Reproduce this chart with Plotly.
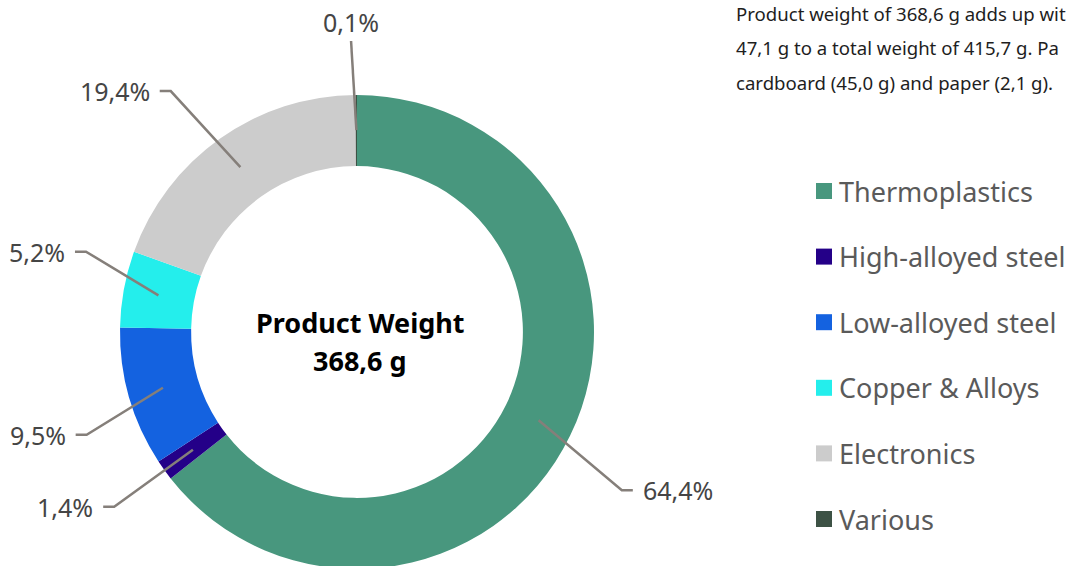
import math
import plotly.graph_objects as go

# ---------------- data ----------------
categories = ["Thermoplastics", "High-alloyed steel", "Low-alloyed steel",
              "Copper & Alloys", "Electronics", "Various"]
shares = [64.4, 1.4, 9.5, 5.2, 19.4, 0.1]
percent_labels = ["64,4%", "1,4%", "9,5%", "5,2%", "19,4%", "0,1%"]
center_title = "Product Weight"
center_value = "368,6 g"
# note text as visible in the reference (cut at the right edge there)
note_lines = [
    "Product weight of 368,6 g adds up wit",
    "47,1 g to a total weight of 415,7 g. Pa",
    "cardboard (45,0 g) and paper (2,1 g).",
]

# ---------------- style ----------------
colors = ["#48977e", "#240088", "#1462e0", "#24eeec", "#cccccc", "#3d5245"]
FONT = "Noto Sans"
W, H = 1071, 570
CX, CY, R = 357, 332, 237
HOLE = 0.7
R_START = 0.852 * R      # leader line start (inside ring)
R_ELBOW = 300            # natural elbow radius
TAIL = 11
# manual label nudges (px) for readability, like the original layout
label_nudge = [(-5, 27), (1, 0), (18, 20), (24, -26), (-13, 4), (-5, 9)]
LINE_COLOR = "#857f7a"
LABEL_COLOR = "#454545"
LEGEND_COLOR = "#5a5a5a"

fig = go.Figure()
fig.add_trace(go.Pie(
    labels=categories, values=shares, sort=False, direction="clockwise",
    rotation=0, hole=HOLE, textinfo="none", hoverinfo="label+percent",
    marker=dict(colors=colors, line=dict(width=0)),
    domain=dict(x=[(CX - R) / W, (CX + R) / W],
                y=[(H - CY - R) / H, (H - CY + R) / H]),
    showlegend=False,
))

shapes = []
annotations = []
total = sum(shares)
cum = 0.0
for i, v in enumerate(shares):
    mid = (cum + v / 2) / total * 2 * math.pi
    cum += v
    s, c = math.sin(mid), math.cos(mid)
    x0, y0 = CX + R_START * s, CY - R_START * c
    ex = CX + R_ELBOW * s + label_nudge[i][0]
    ey = CY - R_ELBOW * c + label_nudge[i][1]
    if abs(s) < 0.15:
        # near the top: straight line with label above
        shapes.append(dict(type="path", xref="x", yref="y",
                           path=f"M {x0},{y0} L {ex},{ey}",
                           line=dict(color=LINE_COLOR, width=2.5), layer="above"))
        annotations.append(dict(x=ex, y=ey - 19, xref="x", yref="y",
                                text=percent_labels[i], showarrow=False,
                                xanchor="center", yanchor="middle",
                                font=dict(family=FONT, size=25, color=LABEL_COLOR)))
        continue
    side = 1 if s > 0 else -1
    tx = ex + side * TAIL
    shapes.append(dict(type="path", xref="x", yref="y",
                       path=f"M {x0},{y0} L {ex},{ey} L {tx},{ey}",
                       line=dict(color=LINE_COLOR, width=2.5), layer="above"))
    annotations.append(dict(x=tx + side * 8, y=ey, xref="x", yref="y",
                            text=percent_labels[i], showarrow=False,
                            xanchor="left" if side > 0 else "right", yanchor="middle",
                            font=dict(family=FONT, size=25, color=LABEL_COLOR)))

# center text
annotations.append(dict(x=CX + 3, y=322, xref="x", yref="y", text=f"<b>{center_title}</b>",
                        showarrow=False, xanchor="center", yanchor="middle",
                        font=dict(family=FONT, size=27, color="#000000")))
annotations.append(dict(x=CX + 3, y=360, xref="x", yref="y", text=f"<b>{center_value}</b>",
                        showarrow=False, xanchor="center", yanchor="middle",
                        font=dict(family=FONT, size=27, color="#000000")))

# note text (top right)
for k, line in enumerate(note_lines):
    annotations.append(dict(x=734, y=13 + k * 34.5, xref="x", yref="y", text=line,
                            showarrow=False, xanchor="left", yanchor="middle",
                            font=dict(family=FONT, size=18.6, color="#1e1e1e")))

# legend (drawn manually to match spacing)
LEG_X, LEG_Y0, LEG_DY, SQ = 816, 191, 65.6, 16
for i, name in enumerate(categories):
    yc = LEG_Y0 + i * LEG_DY
    shapes.append(dict(type="rect", xref="x", yref="y",
                       x0=LEG_X, x1=LEG_X + SQ, y0=yc - SQ / 2, y1=yc + SQ / 2,
                       fillcolor=colors[i], line=dict(width=0), layer="above"))
    annotations.append(dict(x=LEG_X + SQ + 5, y=yc, xref="x", yref="y", text=name,
                            showarrow=False, xanchor="left", yanchor="middle",
                            font=dict(family=FONT, size=27, color=LEGEND_COLOR)))

fig.update_layout(
    width=W, height=H, margin=dict(l=0, r=0, t=0, b=0),
    paper_bgcolor="white", plot_bgcolor="rgba(0,0,0,0)",
    xaxis=dict(range=[0, W], visible=False, domain=[0, 1], fixedrange=True),
    yaxis=dict(range=[H, 0], visible=False, domain=[0, 1], fixedrange=True),
    shapes=shapes, annotations=annotations, showlegend=False,
    font=dict(family=FONT),
)

fig.write_html("out.html", config={"displayModeBar": False},
               post_script="document.body.style.margin='0';document.body.style.overflow='hidden';")
